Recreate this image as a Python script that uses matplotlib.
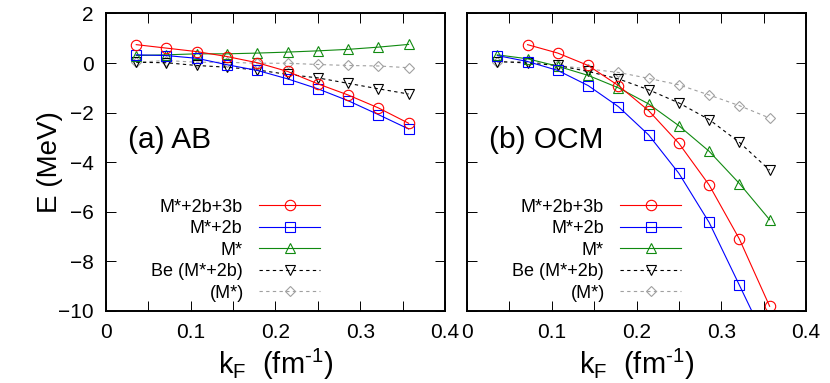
#Energy per particle vs Fermi momentum, AB and OCM panels
import matplotlib
matplotlib.use("Agg")
import matplotlib.pyplot as plt
from matplotlib.ticker import MultipleLocator

plt.rcParams['font.family'] = ['Liberation Sans', 'DejaVu Sans']
plt.rcParams['mathtext.fontset'] = 'custom'
plt.rcParams['mathtext.rm'] = 'Liberation Sans'

#Fermi momentum grid (fm^-1)
kf = [0.0357, 0.0714, 0.1071, 0.1429, 0.1786, 0.2143, 0.25, 0.2857, 0.3214, 0.3571]

#(a) AB potential
ab_full = [0.74, 0.60, 0.46, 0.26, 0.01, -0.34, -0.84, -1.29, -1.81, -2.43]
ab_2b = [0.33, 0.30, 0.19, -0.07, -0.30, -0.64, -1.04, -1.52, -2.08, -2.66]
ab_m = [0.30, 0.33, 0.37, 0.37, 0.40, 0.44, 0.49, 0.55, 0.64, 0.75]
ab_be2b = [0.03, 0.01, -0.10, -0.17, -0.28, -0.46, -0.60, -0.82, -1.04, -1.25]
ab_bem = [0.03, 0.10, 0.03, 0.03, -0.01, -0.01, -0.06, -0.10, -0.12, -0.19]

#(b) OCM potential (full result starts at second kF point)
ocm_full = [0.74, 0.40, -0.10, -0.91, -1.92, -3.24, -4.92, -7.10, -9.81]
ocm_2b = [0.30, 0.06, -0.30, -0.91, -1.76, -2.90, -4.45, -6.43, -8.96, -11.5]
ocm_m = [0.33, 0.17, -0.13, -0.50, -1.00, -1.65, -2.53, -3.56, -4.86, -6.32]
ocm_be2b = [0.06, 0.00, -0.10, -0.34, -0.64, -1.08, -1.61, -2.28, -3.20, -4.32]
ocm_bem = [0.03, 0.07, -0.10, -0.24, -0.38, -0.62, -0.88, -1.29, -1.72, -2.22]

labels = ["M*+2b+3b", "M*+2b", "M*", "Be (M*+2b)", "(M*)"]
panel_titles = ["(a) AB", "(b) OCM"]

#Styles: color, marker, markersize, linestyle
styles = [
    ("#ff0000", "o", 7.5, "-"),
    ("#0000ff", "s", 7.5, "-"),
    ("#108a10", "^", 7.0, "-"),
    ("#000000", "v", 7.0, (0, (3, 3))),
    ("#a0a0a0", "D", 5.0, (0, (3, 3))),
]

fig = plt.figure(figsize=(8.3, 3.83), dpi=100)
ax_a = fig.add_axes([0.1277, 0.188, 0.4084, 0.777])
ax_b = fig.add_axes([0.5627, 0.188, 0.4084, 0.777])

panels = [
    (ax_a, [(kf, ab_full), (kf, ab_2b), (kf, ab_m), (kf, ab_be2b), (kf, ab_bem)]),
    (ax_b, [(kf[1:], ocm_full), (kf, ocm_2b), (kf, ocm_m), (kf, ocm_be2b), (kf, ocm_bem)]),
]

legends = []
for i, (ax, series) in enumerate(panels):
    #Draw in reverse so red/blue sit on top
    handles = [None] * len(series)
    for j in reversed(range(len(series))):
        x, y = series[j]
        color, marker, ms, ls = styles[j]
        handles[j], = ax.plot(x, y, color=color, marker=marker, markersize=ms,
                              markerfacecolor="none", markeredgecolor=color,
                              markeredgewidth=0.8, linewidth=0.8, linestyle=ls,
                              label=labels[j])

    ax.set_xlim(0, 0.4)
    ax.set_ylim(-10, 2)
    ax.xaxis.set_major_locator(MultipleLocator(0.1))
    ax.xaxis.set_minor_locator(MultipleLocator(0.05))
    ax.yaxis.set_major_locator(MultipleLocator(2))
    ax.tick_params(which="both", direction="in", top=True, right=True,
                   length=7, width=0.7, labelsize=15, pad=9)
    ax.set_xticks([0, 0.1, 0.2, 0.3, 0.4], ["0", "0.1", "0.2", "0.3", "0.4"])
    for sp in ax.spines.values():
        sp.set_linewidth(1.4)

    ax.set_xlabel("k$_\\mathregular{F}$  (fm$^\\mathregular{\u20101}$)", fontsize=21, labelpad=3)

    #Panel tag
    ax.text(0.065, 0.547, panel_titles[i], transform=ax.transAxes,
            fontsize=21.5, ha="left", va="baseline")

    #Key samples only; texts are added right-aligned afterwards (gnuplot style)
    leg = ax.legend(handles, [""] * len(handles), loc="upper right",
                    bbox_to_anchor=(0.632, 0.378), frameon=False, fontsize=13,
                    numpoints=1, handlelength=3.4, handletextpad=0,
                    labelspacing=0.25, borderaxespad=0, borderpad=0)
    legends.append((ax, leg))

ax_a.set_ylabel("E (MeV)", fontsize=20, labelpad=-4)
ax_b.tick_params(labelleft=False)

#Place key labels just left of each sample line
fig.canvas.draw()
renderer = fig.canvas.get_renderer()
for ax, leg in legends:
    for h, lab in zip(leg.legend_handles, labels):
        bb = h.get_window_extent(renderer)
        ax.annotate(lab, xy=(bb.x0 - 11, (bb.y0 + bb.y1) / 2), xycoords="figure pixels",
                    ha="right", va="center_baseline", fontsize=13)

fig.savefig("out.png", dpi=100)
